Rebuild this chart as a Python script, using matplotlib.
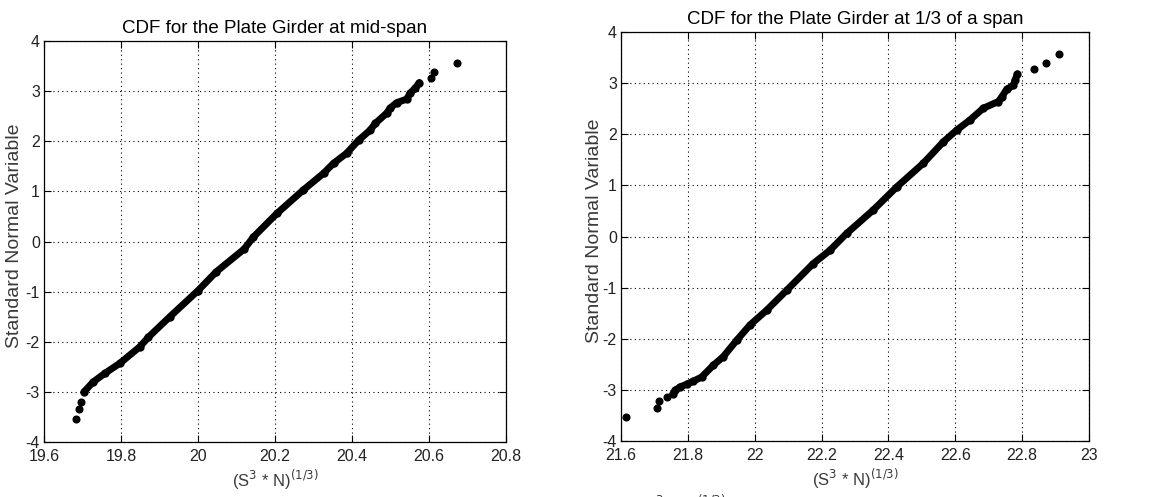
import matplotlib
matplotlib.use("Agg")
import matplotlib.pyplot as plt

# ---- data ----
titles = ["CDF for the Plate Girder at mid-span", "CDF for the Plate Girder at 1/3 of a span"]
xlabel = "(S$^3$ * N)$^{(1/3)}$"
ylabel = "Standard Normal Variable"

# mid-span: dense body of the probability plot
mid_x = [19.704, 19.728, 19.758, 19.797, 19.849, 19.871, 19.927, 20.000, 20.048, 20.120,
         20.144, 20.205, 20.274, 20.326, 20.352, 20.386, 20.417, 20.447, 20.461, 20.490,
         20.499, 20.516, 20.542, 20.551, 20.564, 20.575]
mid_z = [-3.00, -2.80, -2.63, -2.43, -2.10, -1.91, -1.50, -0.98, -0.60, -0.15,
         0.09, 0.56, 1.03, 1.36, 1.56, 1.76, 2.02, 2.22, 2.36, 2.56,
         2.66, 2.77, 2.84, 2.96, 3.06, 3.17]
# mid-span: isolated tail points
mid_tail_x = [19.683, 19.690, 19.696, 20.604, 20.613, 20.673]
mid_tail_z = [-3.54, -3.35, -3.20, 3.27, 3.39, 3.57]

# 1/3 span: dense body
third_x = [21.755, 21.762, 21.777, 21.797, 21.816, 21.841, 21.876, 21.906, 21.946, 21.986,
           22.036, 22.096, 22.175, 22.225, 22.275, 22.355, 22.425, 22.504, 22.564, 22.604,
           22.644, 22.684, 22.729, 22.739, 22.754, 22.774, 22.779, 22.786]
third_z = [-3.08, -3.01, -2.94, -2.89, -2.83, -2.75, -2.52, -2.35, -2.03, -1.73,
           -1.44, -1.05, -0.53, -0.27, 0.06, 0.52, 0.97, 1.43, 1.85, 2.08,
           2.28, 2.51, 2.64, 2.73, 2.88, 2.96, 3.06, 3.18]
# 1/3 span: isolated tail points
third_tail_x = [21.615, 21.707, 21.713, 21.737, 22.835, 22.871, 22.911]
third_tail_z = [-3.54, -3.35, -3.22, -3.14, 3.27, 3.39, 3.57]

mid_xticks = [19.6, 19.8, 20.0, 20.2, 20.4, 20.6, 20.8]
mid_xticklabels = ["19.6", "19.8", "20", "20.2", "20.4", "20.6", "20.8"]
third_xticks = [21.6, 21.8, 22.0, 22.2, 22.4, 22.6, 22.8, 23.0]
third_xticklabels = ["21.6", "21.8", "22", "22.2", "22.4", "22.6", "22.8", "23"]
yticks = [-4, -3, -2, -1, 0, 1, 2, 3, 4]

plt.rcParams['font.family'] = ['Liberation Sans', 'DejaVu Sans']

W, H = 1159, 497
fig = plt.figure(figsize=(W / 100, H / 100), dpi=100)
fig.patch.set_facecolor("white")

ax1 = fig.add_axes([44 / W, 1 - 442 / H, 462 / W, 401 / H])
ax2 = fig.add_axes([621 / W, 1 - 441 / H, 468 / W, 409 / H])

panels = [
    (ax1, mid_x, mid_z, mid_tail_x, mid_tail_z, mid_xticks, mid_xticklabels, titles[0], -0.046),
    (ax2, third_x, third_z, third_tail_x, third_tail_z, third_xticks, third_xticklabels, titles[1], -0.039),
]

label_color = "#3a3a3a"
for ax, x, z, tx, tz, xt, xtl, title, ylx in panels:
    ax.plot(x, z, '-', color='black', lw=5.0, solid_capstyle='round', zorder=3)
    ax.plot(x, z, 'o', color='black', ms=5, zorder=3)
    ax.plot(tx, tz, 'o', color='black', ms=4.8, linestyle='none', zorder=3)
    ax.set_xlim(xt[0], xt[-1])
    ax.set_ylim(-4, 4)
    ax.set_xticks(xt)
    ax.set_xticklabels(xtl)
    ax.set_yticks(yticks)
    ax.set_yticklabels([str(v) for v in yticks])
    ax.grid(True, linestyle=(0, (1, 3)), color='black', lw=0.8)
    ax.set_axisbelow(True)
    ax.tick_params(direction='in', top=True, right=True, length=5, width=0.8,
                   labelsize=11.5, labelcolor='#222222')
    ax.tick_params(axis='x', pad=5)
    ax.tick_params(axis='y', pad=3)
    for s in ax.spines.values():
        s.set_linewidth(0.9)
        s.set_color('black')
    ax.set_title(title, fontsize=13.5, pad=6)
    ax.set_xlabel(xlabel, fontsize=12, color=label_color, labelpad=3)
    ax.set_ylabel(ylabel, fontsize=14, color=label_color)
    ax.yaxis.set_label_coords(ylx, 0.515)

# cut-off fragment of another axis label at the bottom edge
fig.text(682 / W, 1 - 505 / H, xlabel, fontsize=12, color=label_color,
         ha='center', va='center')

fig.savefig("out.png", dpi=100, facecolor="white")
